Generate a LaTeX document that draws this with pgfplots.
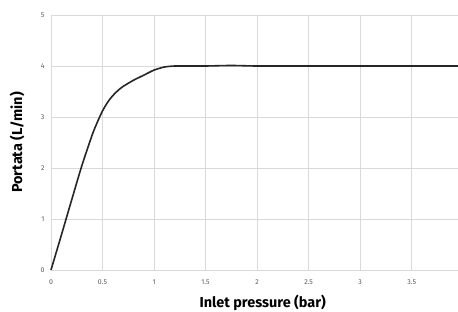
\documentclass[border=0pt]{standalone}
\usepackage{fontspec}
\setmainfont{Fira Sans}
\usepackage{pgfplots}
\pgfplotsset{compat=1.18}
\definecolor{gridc}{HTML}{D9D9D9}
\definecolor{tickc}{HTML}{595959}
\definecolor{linec}{HTML}{262626}
\begin{document}
\begin{tikzpicture}
\useasboundingbox (-51bp,-42bp) rectangle (407bp,270bp);
\begin{axis}[
  at={(0,0)}, anchor=origin,
  scale only axis,
  width=407bp, height=255bp,
  xmin=0, xmax=3.95, ymin=0, ymax=5,
  xtick={0,0.5,1,1.5,2,2.5,3,3.5},
  xticklabels={0,0.5,1,1.5,2,2.5,3,3.5},
  ytick={0,1,2,3,4,5},
  grid=major,
  major grid style={gridc, line width=0.6bp},
  axis line style={draw=none},
  major tick length=0pt,
  tick label style={font=\fontsize{7}{8}\selectfont, text=tickc},
  /pgf/number format/assume math mode=true,
  xticklabel style={yshift=-6bp},
  yticklabel style={xshift=-3bp},
  xlabel={\textbf{Inlet pressure (bar)}},
  ylabel={\textbf{Portata (L/min)}},
  label style={font=\fontsize{14.5}{16}\selectfont, text=black},
  xlabel style={at={(rel axis cs:0.52,0)}, anchor=center, yshift=-33bp},
  ylabel style={at={(rel axis cs:0,0.5)}, anchor=center, yshift=34bp},
  clip=false,
]
\addplot[linec, line width=1.6bp, smooth, tension=0.4] coordinates {
(0,0) (0.1,0.68) (0.2,1.37) (0.3,2.05) (0.4,2.65) (0.45,2.9) (0.5,3.12)
(0.55,3.29) (0.6,3.42) (0.65,3.52) (0.7,3.6) (0.8,3.72) (0.9,3.82)
(1.0,3.92) (1.1,3.98) (1.2,4.0) (1.35,4.0) (1.5,4.0) (1.75,4.01)
(2,4.0) (2.5,4.0) (3,4.0) (3.5,4.0) (3.95,4.0)
};
\end{axis}
\end{tikzpicture}
\end{document}
